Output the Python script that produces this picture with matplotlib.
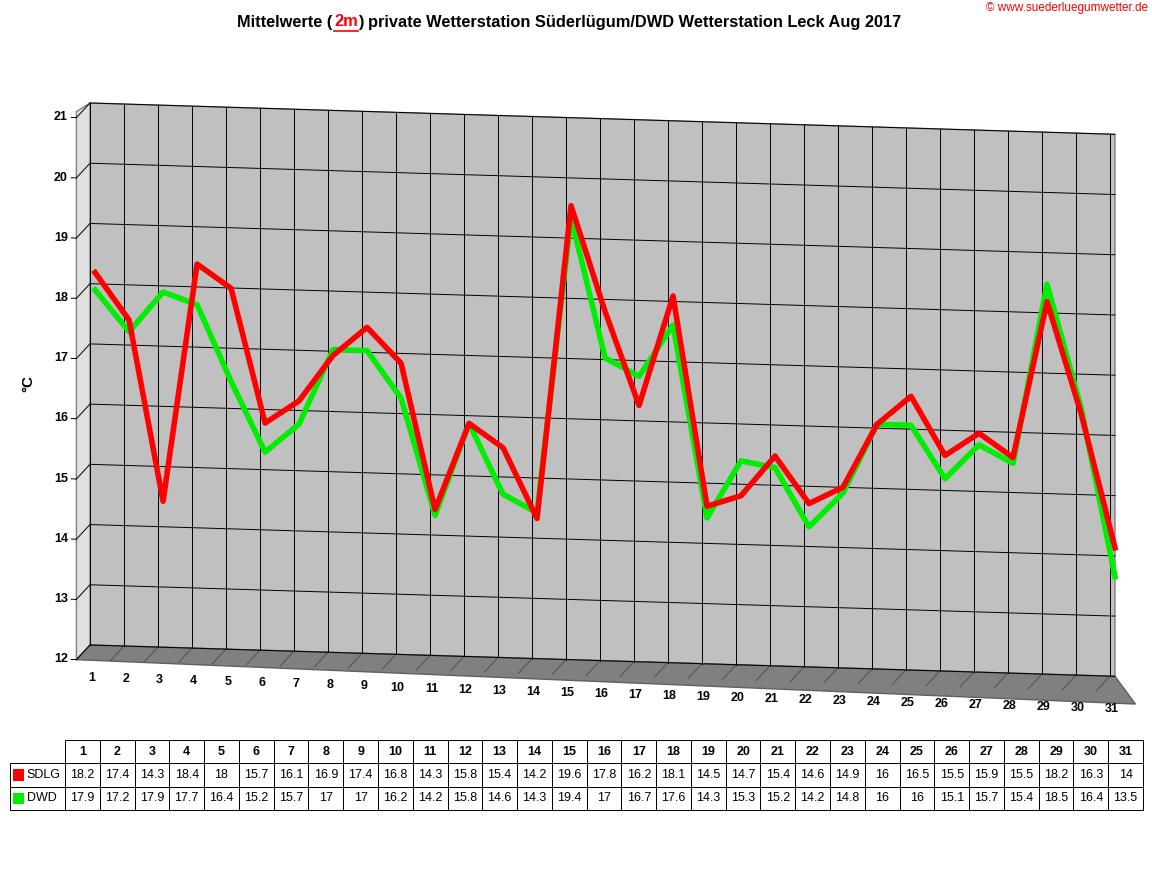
import matplotlib
matplotlib.use('Agg')
import matplotlib.pyplot as plt
from matplotlib.transforms import Affine2D
from matplotlib.patches import Polygon, Rectangle

plt.rcParams['font.family'] = ['Liberation Sans', 'DejaVu Sans']

days = list(range(1, 32))
sdlg = [18.2, 17.4, 14.3, 18.4, 18, 15.7, 16.1, 16.9, 17.4, 16.8, 14.3, 15.8, 15.4, 14.2, 19.6, 17.8,
        16.2, 18.1, 14.5, 14.7, 15.4, 14.6, 14.9, 16, 16.5, 15.5, 15.9, 15.5, 18.2, 16.3, 14]
dwd = [17.9, 17.2, 17.9, 17.7, 16.4, 15.2, 15.7, 17, 17, 16.2, 14.2, 15.8, 14.6, 14.3, 19.4, 17,
       16.7, 17.6, 14.3, 15.3, 15.2, 14.2, 14.8, 16, 16, 15.1, 15.7, 15.4, 18.5, 16.4, 13.5]
yticks = [12, 13, 14, 15, 16, 17, 18, 19, 20, 21]
title_a = 'Mittelwerte ('
title_b = '2m'
title_c = ') private Wetterstation Süderlügum/DWD Wetterstation Leck Aug 2017'

W, H = 1152, 882
fig = plt.figure(figsize=(W / 100, H / 100), dpi=100)
L, R, T, B = 90, 1115, 103, 645
ax = fig.add_axes([L / W, 1 - B / H, (R - L) / W, (B - T) / H])
ax.set_xlim(0.85, 31)
ax.set_ylim(12, 21)
ax.axis('off')

# perspective-like skew: right side sinks down
skew = Affine2D().translate(-L, 0).skew_deg(0, -1.75).translate(L, 0)
tr = ax.transData + skew
# the curves sit a bit in front of the back wall
tr_lines = ax.transData + Affine2D().translate(0, -B).scale(1, 0.965).translate(0, B - 2) + skew

wall = Polygon([(0.85, 12), (31, 12), (31, 21), (0.85, 21)], closed=True,
               facecolor='#c0c0c0', edgecolor='#808080', lw=1, transform=tr, clip_on=False)
ax.add_patch(wall)
floor = Polygon([(0.85, 12), (31, 12), (31.6, 11.55), (0.45, 11.75)], closed=True,
                facecolor='#808080', edgecolor='#606060', lw=1, transform=tr, clip_on=False)
ax.add_patch(floor)
side = Polygon([(0.85, 12), (0.85, 21), (0.45, 20.85), (0.45, 11.75)], closed=True,
               facecolor='#e0e0e0', edgecolor='#808080', lw=1, transform=tr, clip_on=False)
ax.add_patch(side)

for k in range(31):
    x = 0.85 + k
    ax.plot([x, x], [12, 21], color='black', lw=0.7, transform=tr, clip_on=False)
    ax.plot([x, x - 0.4], [12, 11.75], color='#505050', lw=0.7, transform=tr, clip_on=False)
for y in yticks:
    ax.plot([0.85, 31], [y, y], color='black', lw=0.7, transform=tr, clip_on=False)
    ax.plot([0.45, 0.85], [y - 0.25, y], color='black', lw=0.7, transform=tr, clip_on=False)
    ax.plot([0.3, 0.45], [y - 0.25, y - 0.25], color='black', lw=0.7, transform=tr, clip_on=False)
    ax.text(0.2, y - 0.25, str(y), ha='right', va='center', fontsize=9, fontweight='bold',
            transform=tr)

ax.plot(days, dwd, color='#00ee00', lw=4, transform=tr_lines, clip_on=False)
ax.plot(days, sdlg, color='#ff0000', lw=4, transform=tr_lines, clip_on=False)

for d in days:
    ax.text(d - 0.1, 11.55, str(d), ha='center', va='top', fontsize=9, fontweight='bold',
            transform=tr)

fig.text(28 / W, 1 - 383 / H, '°C', rotation=90, ha='center', va='center', fontsize=11,
         fontweight='bold')

# title
ty = 1 - 22 / H
fig.text(237 / W, ty, title_a, fontsize=11.75, fontweight='bold', va='center')
fig.text(334 / W, ty, title_b, fontsize=11.75, fontweight='bold', va='center', color='red')
fig.add_artist(plt.Line2D([334 / W, 358 / W], [1 - 31 / H, 1 - 31 / H], color='red', lw=1.2))
fig.text(358 / W, ty, title_c, fontsize=11.75, fontweight='bold', va='center')
fig.text(1148 / W, 1 - 8 / H, '© www.suederluegumwetter.de', color='red', fontsize=8.5,
         ha='right', va='center')

# table
tax = fig.add_axes([10 / W, 1 - 810 / H, 1133 / W, 70 / H])
tax.axis('off')
c0 = 55 / 1133
cw = (1 - c0) / 31
cells = [[''] + [str(d) for d in days],
         ['SDLG'] + [('%g' % v) for v in sdlg],
         ['DWD'] + [('%g' % v) for v in dwd]]
tbl = tax.table(cellText=cells, colWidths=[c0] + [cw] * 31, cellLoc='center',
                loc='center', bbox=[0, 0, 1, 1])
tbl.auto_set_font_size(False)
for (r, c), cell in tbl.get_celld().items():
    cell.set_linewidth(0.7)
    cell.get_text().set_fontsize(9)
    cell.get_text().set_fontweight('bold' if r == 0 else 'normal')
    if r == 0 and c == 0:
        cell.set_edgecolor('white')
    if c == 0 and r > 0:
        cell.get_text().set_ha('left')
        cell.PAD = 0.3
for r, col in [(1, 'red'), (2, '#00ee00')]:
    yy = 1 - (r + 0.5) / 3
    tax.add_patch(Rectangle((0.003, yy - 0.08), 0.009, 0.16, facecolor=col,
                            transform=tax.transAxes, clip_on=False, zorder=5))

fig.savefig('out.png', dpi=100, facecolor='white')
